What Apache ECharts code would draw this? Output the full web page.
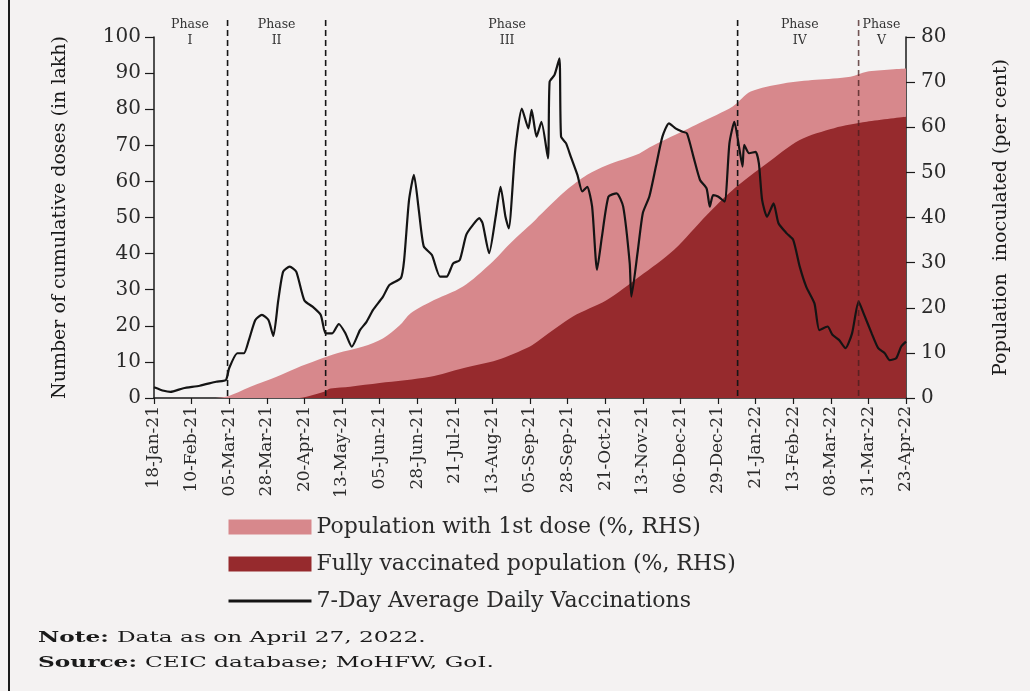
<!DOCTYPE html>
<html><head><meta charset="utf-8">
<script src="https://cdn.jsdelivr.net/npm/echarts@6/dist/echarts.min.js"></script>
<style>html,body{margin:0;padding:0;background:#f4f2f2;} #c{width:1030px;height:691px;}</style>
</head><body><div id="c"></div>
<script>
// x positions are days since 18-Jan-21
const tickStep = 23;
const tickLabels = ['18-Jan-21','10-Feb-21','05-Mar-21','28-Mar-21','20-Apr-21','13-May-21','05-Jun-21','28-Jun-21','21-Jul-21','13-Aug-21','05-Sep-21','28-Sep-21','21-Oct-21','13-Nov-21','06-Dec-21','29-Dec-21','21-Jan-22','13-Feb-22','08-Mar-22','31-Mar-22','23-Apr-22'];
const leftTicks = [0,10,20,30,40,50,60,70,80,90,100];
const rightTicks = [0,10,20,30,40,50,60,70,80];

const dailyDays = [0,6,10,18,28,38,44,46,51,55,58,62,66,70,73,76,79,83,87,92,97,102,105,109,113,117,121,126,130,134,140,144,151,153,156,159,162,165,170,175,179,183,187,191,195,199,201,205,209,212,215,217,221,225,229,231,234,237,241,242,245,248,249,252,255,259,262,265,268,271,274,278,283,287,291,292,296,299,303,307,311,315,319,323,326,330,334,338,340,342,345,349,352,355,358,360,361,364,368,370,372,375,379,382,387,391,395,399,404,407,412,415,419,423,427,431,434,439,443,447,450,454,457,460];
const dailyValues = [3,2,1.7,2.7,3.4,4.5,5,8.3,12.4,12.4,16,21.6,23,21.6,17.2,27,35,36.4,35,27,25.3,23,17.9,17.9,20.5,18,14.2,18.8,21.1,24.4,28,31.3,33.2,38.2,54.8,61.8,52,42,39.6,33.6,33.6,37.3,38.2,45.2,47.9,49.8,48.4,40.1,50.2,58.5,50.2,47,68.7,80.2,74.7,79.8,72.4,76.5,66.4,87.6,89.5,94.1,72.4,70.6,66.8,61.8,57.2,58.5,53,35.5,44.7,55.8,56.7,53,37.3,28.1,41,51.2,55.8,64.1,72.4,76.1,74.7,73.8,73.3,66.8,60.4,58.1,53,56.2,55.8,54.4,70.6,76.5,69.2,64.1,70.1,67.8,68.2,65,54.8,50.2,53.9,48.4,45.6,43.8,36.4,30.8,26.2,18.8,19.8,17.5,16.1,13.8,17.9,26.7,23.5,17.9,13.8,12.4,10.5,11,14.2,15.6];

const firstDoseDays = [0,31,44,59,75,87,100,112,128,140,150,157,169,189,206,218,232,236,252,265,277,297,303,324,334,354,365,385,405,426,436,460];
const firstDoseValues = [0,0,0.3,2.5,4.7,6.6,8.4,9.9,11.4,13.2,16,18.8,21.3,24.7,29.8,34.3,39,40.5,46,49.5,51.6,54.2,55.5,59.2,61,64.6,67.9,69.7,70.5,71.2,72.3,73];

const fullyDays = [0,87,104,108,120,138,169,189,210,230,236,256,277,297,318,338,354,375,395,416,436,460];
const fullyValues = [0,0,1.4,2.1,2.5,3.3,4.7,6.6,8.4,11.4,12.9,18,21.7,26.9,32.8,40.5,46.1,52,57.2,59.8,61.2,62.3];

const phaseNames = ['I','II','III','IV','V'];
const phaseBoundaryDays = [45,105,357,431];
const phaseLabelDays = [22,75,216,395,445];

const seriesNames = ['Population with 1st dose (%, RHS)','Fully vaccinated population (%, RHS)','7-Day Average Daily Vaccinations'];
const noteHeads = ['Note: ','Source: '];
const noteLines = ['Data as on April 27, 2022.','CEIC database; MoHFW, GoI.'];

const zip = (a,b) => a.map((d,i)=>[d,b[i]]);
const serif = 'DejaVu Serif';
const chart = echarts.init(document.getElementById('c'), null, {renderer:'canvas'});

const yAxisCommon = {
  type:'value', min:0, interval:10,
  splitLine:{show:false},
  axisLine:{show:true, lineStyle:{color:'#1a1a1a', width:1.5}},
  axisTick:{show:true, length:9, lineStyle:{color:'#1a1a1a', width:1.2}},
  axisLabel:{fontFamily:serif, fontSize:20, color:'#2a2a2a'},
  nameLocation:'middle',
  nameTextStyle:{fontFamily:serif, fontSize:19, color:'#1a1a1a'}
};

chart.setOption({
  backgroundColor:'#f4f2f2',
  animation:false,
  grid:{left:154, right:124, top:37, bottom:293, containLabel:false},
  legend:{
    orient:'vertical', left:222, top:511, itemWidth:83, itemHeight:15, itemGap:15,
    textStyle:{fontFamily:serif, fontSize:22, color:'#2a2a2a'},
    data:[{name:seriesNames[0], icon:'rect'},{name:seriesNames[1], icon:'rect'},
          {name:seriesNames[2], itemStyle:{color:'rgba(0,0,0,0)', borderWidth:0}, lineStyle:{width:3, color:'#141414'}}]
  },
  xAxis:{
    type:'value', min:0, max:tickStep*(tickLabels.length-1), interval:tickStep,
    splitLine:{show:false},
    axisLine:{lineStyle:{color:'#1a1a1a', width:1.5}},
    axisTick:{length:6, lineStyle:{color:'#1a1a1a', width:1.2}},
    axisLabel:{rotate:90, margin:8, fontFamily:serif, fontSize:17, color:'#2a2a2a',
      formatter:v => tickLabels[Math.round(v/tickStep)] || ''}
  },
  yAxis:[
    Object.assign({}, yAxisCommon, {max:leftTicks[leftTicks.length-1], position:'left',
      name:'Number of cumulative doses (in lakh)', nameGap:84,
      axisLabel:Object.assign({}, yAxisCommon.axisLabel, {margin:13})}),
    Object.assign({}, yAxisCommon, {max:rightTicks[rightTicks.length-1], position:'right',
      name:'Population  inoculated (per cent)', nameGap:86, nameRotate:90,
      axisLabel:Object.assign({}, yAxisCommon.axisLabel, {margin:15})})
  ],
  series:[
    {name:seriesNames[0], type:'line', yAxisIndex:1, data:zip(firstDoseDays, firstDoseValues),
      smooth:0.3, symbol:'none', lineStyle:{width:0}, itemStyle:{color:'#d7888c'},
      areaStyle:{color:'#d7888c', opacity:1}, z:1},
    {name:seriesNames[1], type:'line', yAxisIndex:1, data:zip(fullyDays, fullyValues),
      smooth:0.3, symbol:'none', lineStyle:{width:0}, itemStyle:{color:'#962a2d'},
      areaStyle:{color:'#962a2d', opacity:1}, z:2},
    {name:seriesNames[2], type:'line', yAxisIndex:0, data:zip(dailyDays, dailyValues),
      smooth:0.2, symbol:'none', lineStyle:{color:'#141414', width:2.2}, itemStyle:{color:'#141414'}, z:5}
  ]
});

// annotations: phase lines & labels, note, border
const g = [];
const yTop = 20;
const yBottom = chart.convertToPixel({xAxisIndex:0, yAxisIndex:0}, [0,0])[1];
phaseBoundaryDays.forEach((d,i)=>{
  const x = chart.convertToPixel({xAxisIndex:0, yAxisIndex:0}, [d,0])[0];
  g.push({type:'line', z:10, shape:{x1:x, y1:yTop, x2:x, y2:yBottom},
    style:{stroke: i===3 ? 'rgba(70,30,30,0.75)' : '#151515', lineWidth:1.6, lineDash:[6,4]}});
});
phaseNames.forEach((p,i)=>{
  const x = chart.convertToPixel({xAxisIndex:0, yAxisIndex:0}, [phaseLabelDays[i],0])[0];
  g.push({type:'text', z:10, x:x, y:17, style:{text:'Phase\n'+p, align:'center', verticalAlign:'top',
    fontFamily:serif, fontSize:12.5, lineHeight:16, fill:'#333'}});
});
g.push({type:'line', z:10, shape:{x1:9, y1:0, x2:9, y2:691}, style:{stroke:'#1a1a1a', lineWidth:2}});
noteLines.forEach((t,i)=>{
  g.push({type:'text', z:10, x:38, y:631+i*25, scaleX:1.55,
    style:{text:'{b|'+noteHeads[i]+'}{n|'+t+'}', verticalAlign:'top',
      rich:{b:{fontFamily:serif, fontSize:15, fontWeight:'bold', fill:'#1a1a1a'},
            n:{fontFamily:serif, fontSize:15, fill:'#1a1a1a'}}}});
});
chart.setOption({graphic:g});
</script></body></html>
